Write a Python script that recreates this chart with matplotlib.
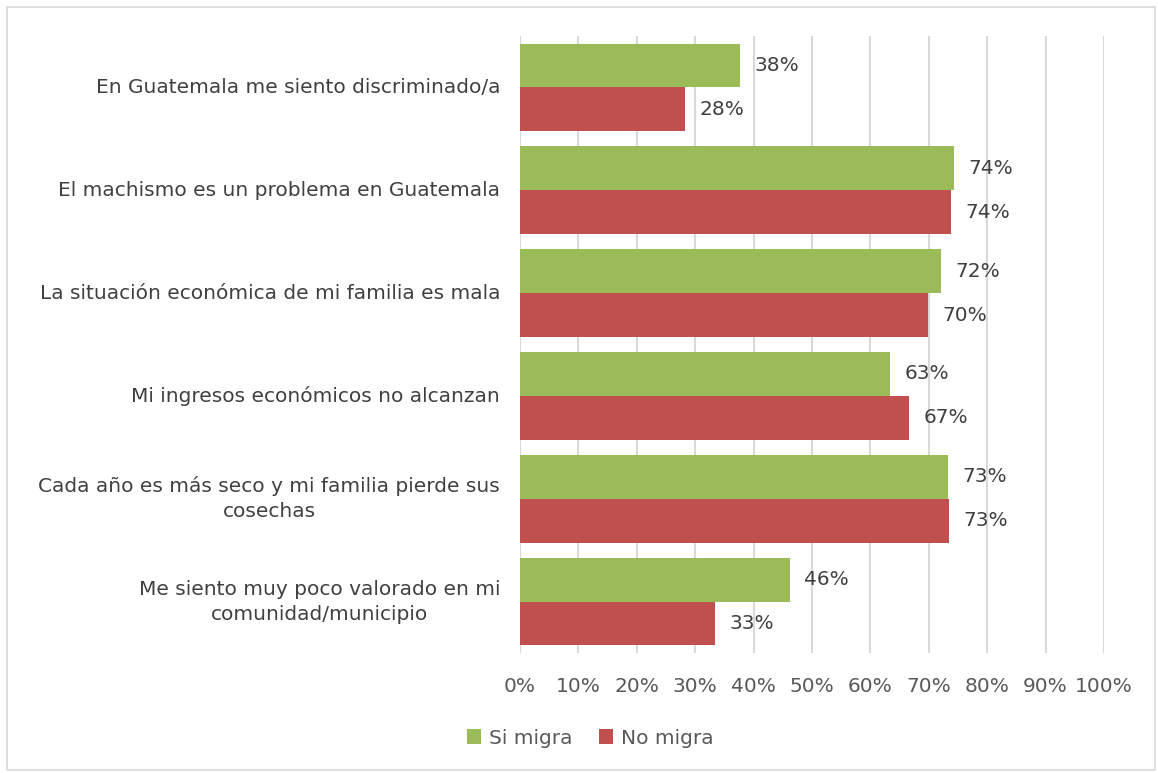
import numpy as np
import matplotlib.pyplot as plt
from matplotlib.patches import Rectangle

plt.rcParams['font.family'] = ['DejaVu Sans']

categories = [
    'En Guatemala me siento discriminado/a',
    'El machismo es un problema en Guatemala',
    'La situación económica de mi familia es mala',
    'Mi ingresos económicos no alcanzan',
    'Cada año es más seco y mi familia pierde sus\ncosechas',
    'Me siento muy poco valorado en mi\ncomunidad/municipio',
]
si_migra = [37.7, 74.3, 72.1, 63.4, 73.3, 46.2]
no_migra = [28.3, 73.8, 69.9, 66.6, 73.4, 33.4]
xticks = np.arange(0, 101, 10)

green = '#9BBB59'
red = '#C0504D'

fig = plt.figure(figsize=(11.58, 7.73), dpi=100)
ax = fig.add_axes([520 / 1158, 1 - 653 / 773, 584 / 1158, 617 / 773])

y = np.arange(len(categories))
h = 0.427
ax.barh(y - h / 2, si_migra, height=h, color=green, label='Si migra', zorder=3)
ax.barh(y + h / 2, no_migra, height=h, color=red, label='No migra', zorder=3)

for yi, v in zip(y, si_migra):
    ax.text(v + 2.5, yi - h / 2, f'{v:.0f}%', va='center', ha='left',
            fontsize=14.5, color='#404040', zorder=4)
for yi, v in zip(y, no_migra):
    ax.text(v + 2.5, yi + h / 2, f'{v:.0f}%', va='center', ha='left',
            fontsize=14.5, color='#404040', zorder=4)

ax.set_xlim(0, 100)
ax.set_ylim(len(categories) - 0.5, -0.5)
ax.set_xticks(xticks)
ax.set_xticklabels([f'{t}%' for t in xticks], fontsize=14.5, color='#595959')
ax.set_yticks(y)
ax.set_yticklabels([])
ax.tick_params(axis='y', length=0)
ax.tick_params(axis='x', length=0, pad=17)

# category labels, right aligned with centred line breaks
ytrans = ax.get_yaxis_transform()
for yi, c in zip(y, categories):
    ax.text(-0.034, yi, c, transform=ytrans, ha='right', va='center',
            multialignment='center', fontsize=14.5, color='#404040',
            linespacing=1.4)

ax.grid(axis='x', color='#D9D9D9', linewidth=1.5, zorder=0)
for s in ax.spines.values():
    s.set_visible(False)

leg = fig.legend(loc='center', bbox_to_anchor=(590 / 1158, 1 - 738 / 773),
                 ncol=2, frameon=False, fontsize=14.5, handlelength=0.7,
                 handleheight=0.7, handletextpad=0.4, columnspacing=1.3)
for t in leg.get_texts():
    t.set_color('#595959')

fig.patches.append(Rectangle((7 / 1158, 3 / 773), 1148 / 1158, 763 / 773,
                             transform=fig.transFigure, fill=False,
                             edgecolor='#D9D9D9', linewidth=1.2))

fig.savefig('out.png', dpi=100)
